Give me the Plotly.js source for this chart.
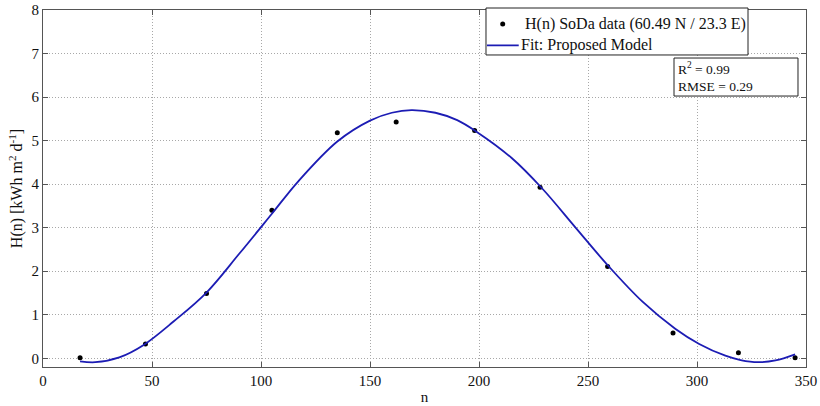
<!DOCTYPE html>
<html>
<head>
<meta charset="utf-8">
<script src="https://cdn.plot.ly/plotly-3.0.1.min.js"></script>
<style>
  html, body { margin: 0; padding: 0; background: #fff; }
  #chart { width: 820px; height: 406px; }
</style>
</head>
<body>
<div id="chart"></div>
<script>
// Daily solar radiation H(n) from SoDa at 60.49 N / 23.3 E, mid-month days
const dayN = [17, 47, 75, 105, 135, 162, 198, 228, 259, 289, 319, 345];
const hSoda = [0.01, 0.33, 1.49, 3.40, 5.18, 5.43, 5.23, 3.93, 2.11, 0.58, 0.13, 0.01];

// Fitted model curve, sampled along n
const fitN = [17, 24, 35, 46, 60, 75, 90, 105, 117, 135, 150, 160, 169, 180, 190, 199, 215, 229, 244, 259, 275, 290, 301, 313, 320, 328, 336, 345];
const fitH = [-0.07, -0.09, 0.02, 0.30, 0.85, 1.51, 2.40, 3.32, 4.06, 4.98, 5.46, 5.64, 5.70, 5.64, 5.47, 5.20, 4.60, 3.90, 3.02, 2.14, 1.30, 0.68, 0.33, 0.06, -0.04, -0.09, -0.05, 0.09];

const seriesNames = ['H(n) SoDa data (60.49 N / 23.3 E)', 'Fit: Proposed Model'];
const statsText = 'R<sup>2</sup> = 0.99<br>RMSE = 0.29';

const xTicks = [0, 50, 100, 150, 200, 250, 300, 350];
const yTicks = [0, 1, 2, 3, 4, 5, 6, 7, 8];

const serif = 'Liberation Serif, Times New Roman, serif';
const axisColor = '#555';
const gridColor = '#a8a8a8';
const fitColor = '#1c1cb4';

const traces = [
  {
    x: dayN, y: hSoda,
    type: 'scatter', mode: 'markers',
    name: seriesNames[0],
    marker: { color: '#000', size: 5 }
  },
  {
    x: fitN, y: fitH,
    type: 'scatter', mode: 'lines',
    name: seriesNames[1],
    line: { color: fitColor, width: 1.8, shape: 'spline', smoothing: 1 }
  }
];

const axisBase = {
  showline: true, linecolor: axisColor, linewidth: 1,
  mirror: 'ticks', ticks: 'inside', ticklen: 5, tickcolor: axisColor,
  showgrid: true, gridcolor: gridColor, griddash: '1px,2px', gridwidth: 1,
  zeroline: false,
  tickfont: { family: serif, size: 15, color: '#111' }
};

// Compact boxed key in the upper right, plus the goodness-of-fit box below it
const keyBox = { x0: 0.5806, x1: 0.924, y0: 0.874, y1: 1.0056 };
const keyRow1 = 0.961, keyRow2 = 0.901;

const layout = {
  width: 820, height: 406,
  margin: { l: 43, r: 14, t: 10, b: 39 },
  paper_bgcolor: '#fff', plot_bgcolor: '#fff',
  font: { family: serif, color: '#111' },
  showlegend: false,
  xaxis: Object.assign({}, axisBase, {
    range: [0, 350], tickvals: xTicks, ticktext: xTicks.map(String),
    title: { text: 'n', font: { family: serif, size: 15 }, standoff: 3 }
  }),
  yaxis: Object.assign({}, axisBase, {
    range: [-0.2, 8], tickvals: yTicks, ticktext: yTicks.map(String),
    title: { text: 'H(n) [kWh m<sup>2</sup> d<sup>-1</sup>]', font: { family: serif, size: 16 }, standoff: 4 }
  }),
  shapes: [
    {
      type: 'rect', xref: 'paper', yref: 'paper',
      x0: keyBox.x0, x1: keyBox.x1, y0: keyBox.y0, y1: keyBox.y1,
      line: { color: '#222', width: 1 }, fillcolor: '#fff', layer: 'above'
    },
    {
      type: 'circle', xref: 'paper', yref: 'paper',
      xsizemode: 'pixel', ysizemode: 'pixel',
      xanchor: 0.6025, yanchor: keyRow1,
      x0: -2.5, x1: 2.5, y0: -2.5, y1: 2.5,
      line: { color: '#000', width: 0 }, fillcolor: '#000', layer: 'above'
    },
    {
      type: 'line', xref: 'paper', yref: 'paper',
      x0: 0.5819, x1: 0.6235, y0: keyRow2, y1: keyRow2,
      line: { color: fitColor, width: 1.8 }, layer: 'above'
    },
    {
      type: 'rect', xref: 'paper', yref: 'paper',
      x0: 0.827, x1: 0.9895, y0: 0.759, y1: 0.8655,
      line: { color: '#222', width: 1 }, fillcolor: '#fff', layer: 'above'
    }
  ],
  annotations: [
    {
      xref: 'paper', yref: 'paper', x: 0.6285, y: keyRow1,
      xanchor: 'left', yanchor: 'middle', showarrow: false,
      text: seriesNames[0],
      font: { family: serif, size: 16, color: '#111' }
    },
    {
      xref: 'paper', yref: 'paper', x: 0.6235, y: keyRow2,
      xanchor: 'left', yanchor: 'middle', showarrow: false,
      text: seriesNames[1],
      font: { family: serif, size: 16, color: '#111' }
    },
    {
      xref: 'paper', yref: 'paper', x: 0.829, y: 0.812,
      xanchor: 'left', yanchor: 'middle', align: 'left', showarrow: false,
      text: statsText,
      font: { family: serif, size: 13.5, color: '#111' }
    }
  ]
};

Plotly.newPlot('chart', traces, layout, { displayModeBar: false, staticPlot: true });
</script>
</body>
</html>
